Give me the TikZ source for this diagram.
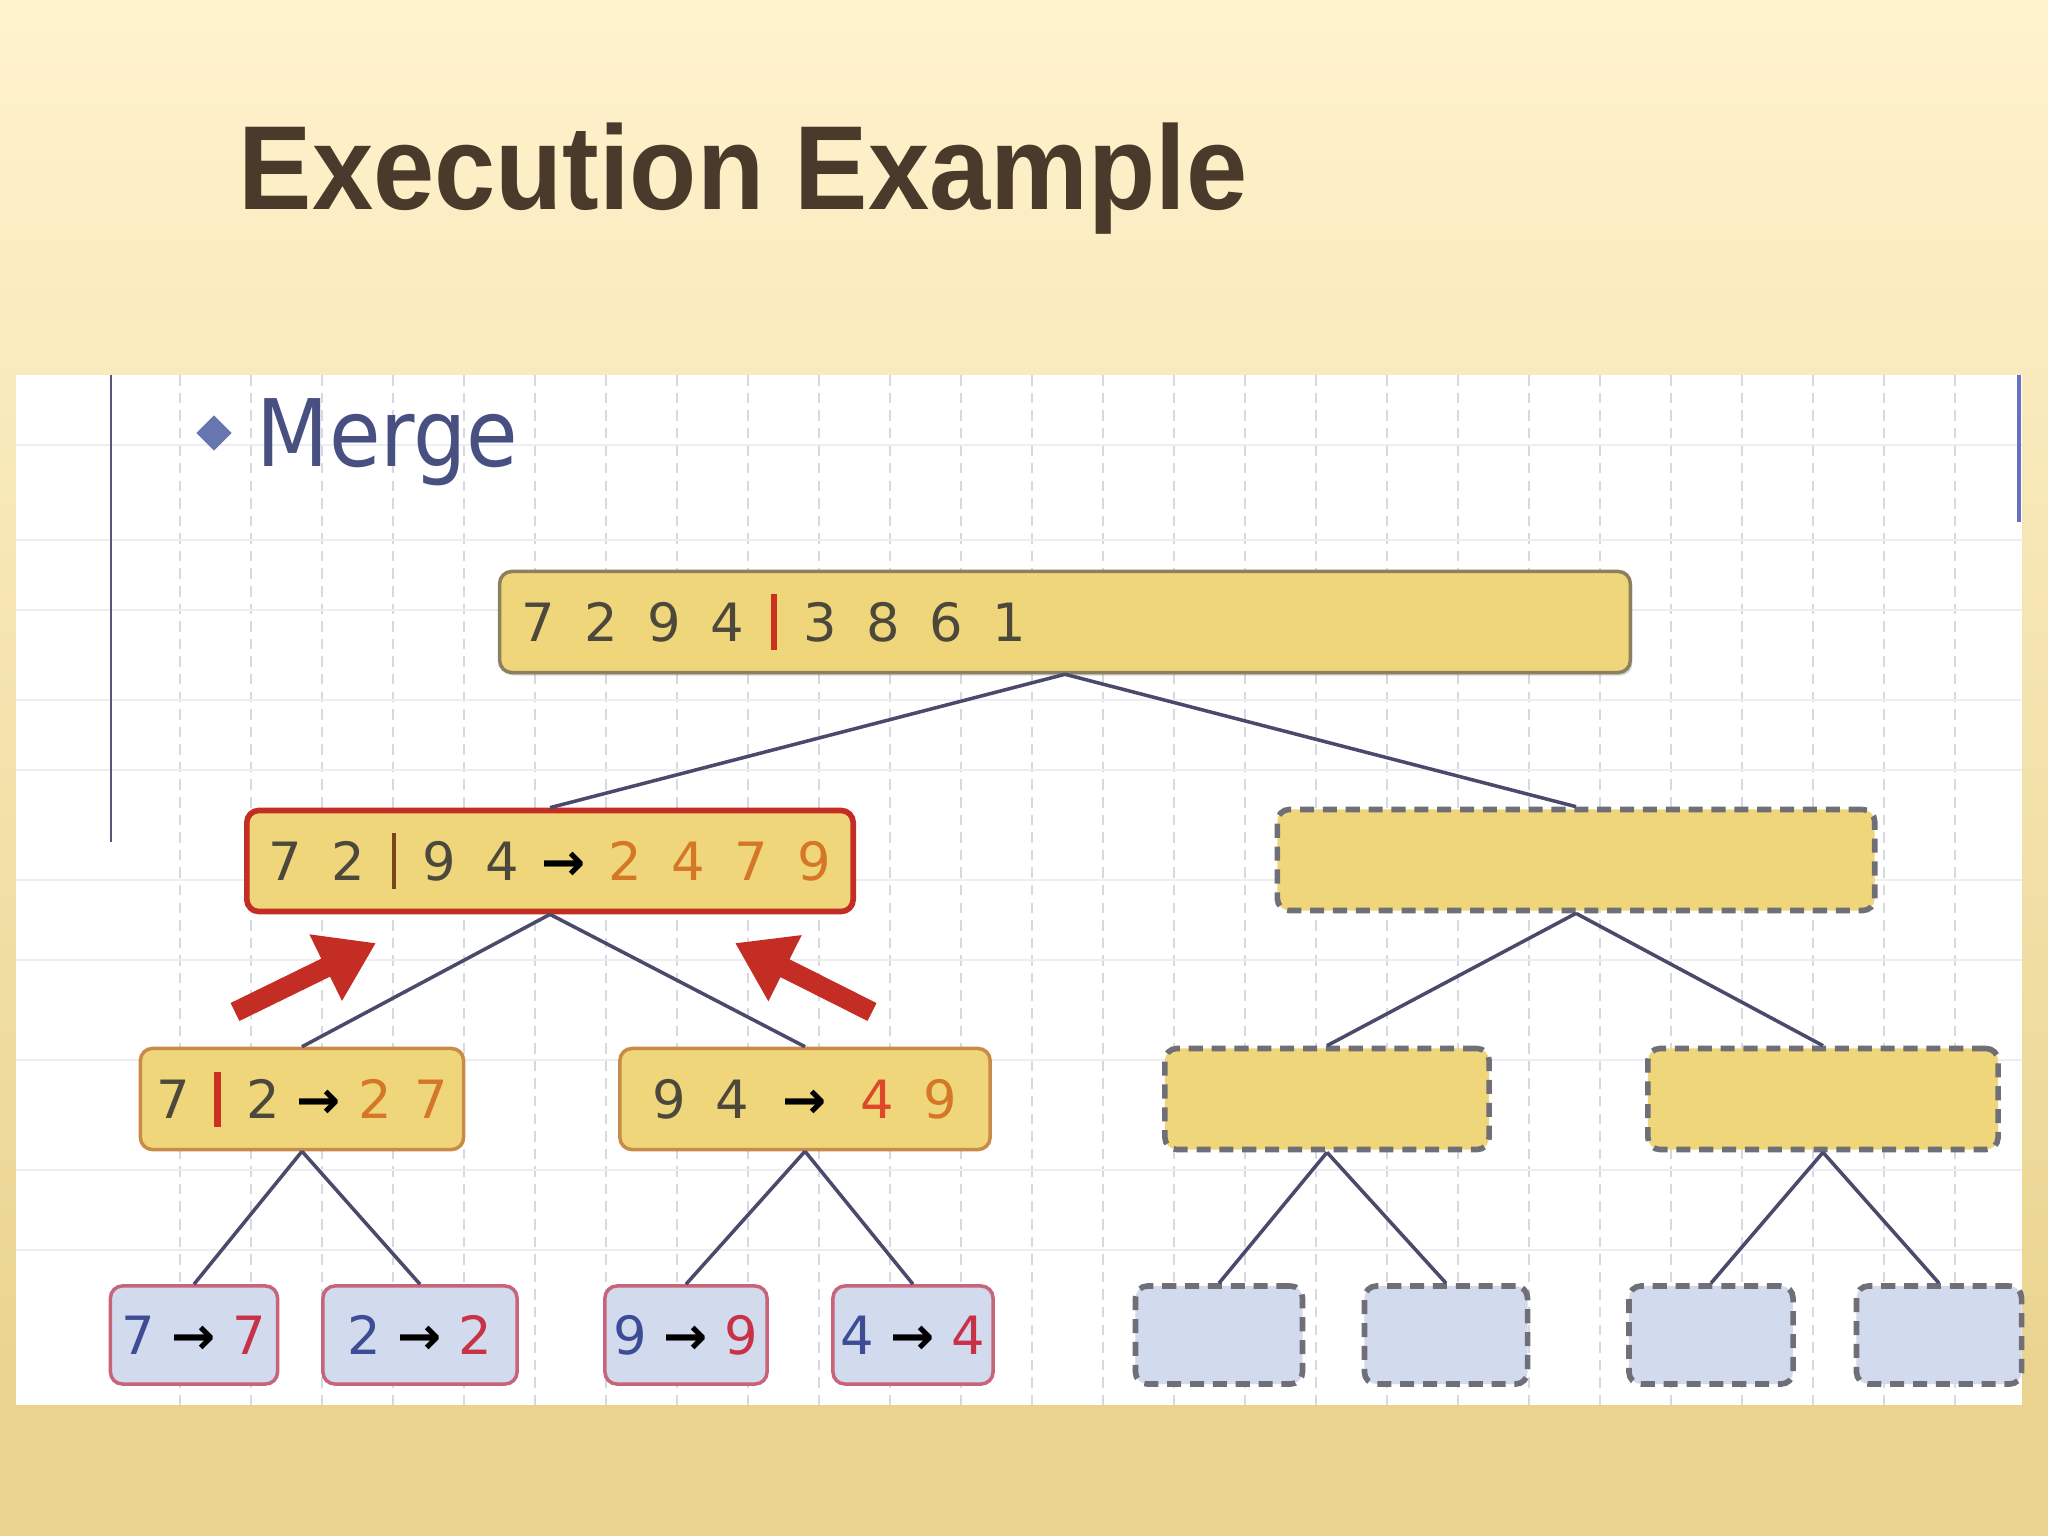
\documentclass[tikz,border=0pt]{standalone}
\usepackage{fontspec}
\setmainfont{DejaVu Sans}
\newfontfamily\titlefont{Liberation Sans}
\newfontfamily\mergefont{DejaVu Sans Condensed}
\usepackage{tikz}
\usetikzlibrary{arrows.meta}
\usetikzlibrary{shapes.geometric,positioning,shadows}
\definecolor{creamtop}{RGB}{255,243,206}
\definecolor{creammid}{RGB}{252,235,185}
\definecolor{tanband}{RGB}{233,211,142}
\definecolor{gridgray}{RGB}{214,216,226}
\definecolor{panelline}{RGB}{88,88,118}
\definecolor{scrollblue}{RGB}{105,112,190}
\definecolor{titlebrown}{RGB}{74,58,44}
\definecolor{mergeblue}{RGB}{72,80,130}
\definecolor{bulletblue}{RGB}{104,118,176}
\definecolor{boxyellow}{RGB}{240,214,122}
\definecolor{rootline}{RGB}{140,128,96}
\definecolor{halfline}{RGB}{200,140,72}
\definecolor{mergered}{RGB}{195,45,35}
\definecolor{dashgray}{RGB}{112,110,118}
\definecolor{leaffill}{RGB}{210,218,238}
\definecolor{leafline}{RGB}{200,100,122}
\definecolor{digitgray}{RGB}{76,72,60}
\definecolor{sortorange}{RGB}{212,120,40}
\definecolor{sortred}{RGB}{222,72,40}
\definecolor{barbrown}{RGB}{120,70,30}
\definecolor{splitred}{RGB}{200,50,30}
\definecolor{leafblue}{RGB}{62,76,150}
\definecolor{leafred}{RGB}{200,50,70}
\definecolor{edgeblue}{RGB}{74,74,108}
\newlength{\digitw}
\setlength{\digitw}{0.63cm}
\newcommand{\nd}[2][digitgray]{\makebox[\digitw]{\textcolor{#1}{#2}}}
\newcommand{\toarr}[1][0.7cm]{\makebox[#1]{\textbf{→}}}
\newcommand{\splitbar}[3]{\makebox[#1]{\textcolor{#2}{\rule[-0.08cm]{#3}{0.55cm}}}}
\tikzset{
    % yellow boxes of the merge tree
    sortbox/.style={
        rectangle,
        rounded corners=0.12cm,
        fill=boxyellow,
        draw=rootline,
        line width=1pt,
        minimum height=1.01cm,
        inner sep=0.07cm,
        font=\fontsize{15}{18}\selectfont
    },
    waitbox/.style={
        sortbox,
        draw=dashgray,
        line width=1.6pt,
        dash pattern=on 4pt off 2.5pt
    },
    leafbox/.style={
        rectangle,
        rounded corners=0.12cm,
        fill=leaffill,
        draw=leafline,
        line width=1pt,
        minimum height=0.98cm,
        inner sep=0.05cm,
        font=\fontsize{15}{18}\selectfont
    },
    waitleaf/.style={
        leafbox,
        draw=dashgray,
        line width=1.6pt,
        dash pattern=on 4pt off 2.5pt
    },
    treeedge/.style={
        line width=1pt,
        edgeblue
    },
    mergearrow/.style={
        line width=0.2cm,
        mergered,
        -{Triangle[length=0.56cm, width=0.7cm]}
    }
}
\begin{document}
\begin{tikzpicture}[x=0.01cm, y=-0.01cm]
	\useasboundingbox (0,0) rectangle (2048,1536);
	% slide background
	\shade[top color=creamtop, middle color=creammid, bottom color=tanband] (0,0) rectangle (2048,1405);
	\fill[tanband] (0,1405) rectangle (2048,1536);
	\node[anchor=base west, inner sep=0pt, text=titlebrown, font=\titlefont\bfseries\fontsize{34}{40}\selectfont] (title) at (238,209) {\scalebox{0.92}[1]{Execution Example}};
	
	% white panel with grid
	\fill[white] (16,375) rectangle (2022,1405);
	\foreach \x in {180,251,...,2000}
		\draw[gridgray, line width=0.6pt, dash pattern=on 3pt off 2pt] (\x,375) -- (\x,1405);
	\foreach \y in {445,540,610,700,770,880,960,1060,1170,1250}
		\draw[gridgray!45, line width=0.6pt] (16,\y) -- (2022,\y);
	\draw[panelline, line width=0.8pt] (111,375) -- (111,842);
	\draw[scrollblue, line width=1.4pt] (2019,375) -- (2019,522);
	
	\node[diamond, fill=bulletblue, minimum size=0.36cm, inner sep=0pt] (bullet) at (214,433) {};
	\node[anchor=base west, inner sep=0pt, text=mergeblue, font=\mergefont\fontsize{26.5}{30}\selectfont] (merge) at (256,466) {Merge};
	
	% tree
	\node[sortbox, drop shadow={shadow xshift=0.02cm, shadow yshift=-0.03cm, opacity=0.3}, text width=11.16cm, align=left] (root) at (1065,622) {\nd{7}\nd{2}\nd{9}\nd{4}\splitbar{0.3cm}{splitred}{1.6pt}\nd{3}\nd{8}\nd{6}\nd{1}};
	
	\node[sortbox, draw=mergered, line width=1.6pt, minimum width=5.97cm] (lmid) at (550,861) {\nd{7}\nd{2}\splitbar{0.28cm}{barbrown}{1pt}\nd{9}\nd{4}\toarr[0.6cm]\nd[sortorange]{2}\nd[sortorange]{4}\nd[sortorange]{7}\nd[sortorange]{9}};
	\node[waitbox, minimum width=5.97cm] (rmid) at (1576,860) {};
	
	\node[sortbox, draw=halfline, inner xsep=0.02cm, minimum width=3.23cm] (ll) at (302,1099) {\setlength{\digitw}{0.56cm}\nd{7}\splitbar{0.34cm}{splitred}{2pt}\nd{2}\toarr[0.56cm]\nd[sortorange]{2}\nd[sortorange]{7}};
	\node[sortbox, draw=halfline, minimum width=3.7cm] (lr) at (805,1099) {\nd{9}\nd{4}\toarr[0.82cm]\nd[sortred]{4}\nd[sortorange]{9}};
	\node[waitbox, minimum width=3.24cm] (rl) at (1327,1099) {};
	\node[waitbox, minimum width=3.5cm] (rr) at (1823,1099) {};
	
	\node[leafbox, minimum width=1.67cm] (l1) at (194,1335) {\textcolor{leafblue}{7} \textbf{→} \textcolor{leafred}{7}};
	\node[leafbox, minimum width=1.94cm] (l2) at (420,1335) {\textcolor{leafblue}{2} \textbf{→} \textcolor{leafred}{2}};
	\node[leafbox, minimum width=1.62cm] (l3) at (686,1335) {\textcolor{leafblue}{9} \textbf{→} \textcolor{leafred}{9}};
	\node[leafbox, minimum width=1.6cm] (l4) at (913,1335) {\textcolor{leafblue}{4} \textbf{→} \textcolor{leafred}{4}};
	\node[waitleaf, minimum width=1.67cm] (l5) at (1219,1335) {};
	\node[waitleaf, minimum width=1.63cm] (l6) at (1446,1335) {};
	\node[waitleaf, minimum width=1.64cm] (l7) at (1711,1335) {};
	\node[waitleaf, minimum width=1.65cm] (l8) at (1939,1335) {};
	
	\draw[treeedge] (root.south) -- (lmid.north);
	\draw[treeedge] (root.south) -- (rmid.north);
	\draw[treeedge] (lmid.south) -- (ll.north);
	\draw[treeedge] (lmid.south) -- (lr.north);
	\draw[treeedge] (rmid.south) -- (rl.north);
	\draw[treeedge] (rmid.south) -- (rr.north);
	\draw[treeedge] (ll.south) -- (l1.north);
	\draw[treeedge] (ll.south) -- (l2.north);
	\draw[treeedge] (lr.south) -- (l3.north);
	\draw[treeedge] (lr.south) -- (l4.north);
	\draw[treeedge] (rl.south) -- (l5.north);
	\draw[treeedge] (rl.south) -- (l6.north);
	\draw[treeedge] (rr.south) -- (l7.north);
	\draw[treeedge] (rr.south) -- (l8.north);
	
	% red arrows pointing at the merge
	\coordinate (lefttail) at (235,1012);
	\coordinate (lefthead) at (376,943);
	\coordinate (righttail) at (872,1012);
	\coordinate (righthead) at (735,943);
	\draw[mergearrow] (lefttail) -- (lefthead);
	\draw[mergearrow] (righttail) -- (righthead);
\end{tikzpicture}
\end{document}
